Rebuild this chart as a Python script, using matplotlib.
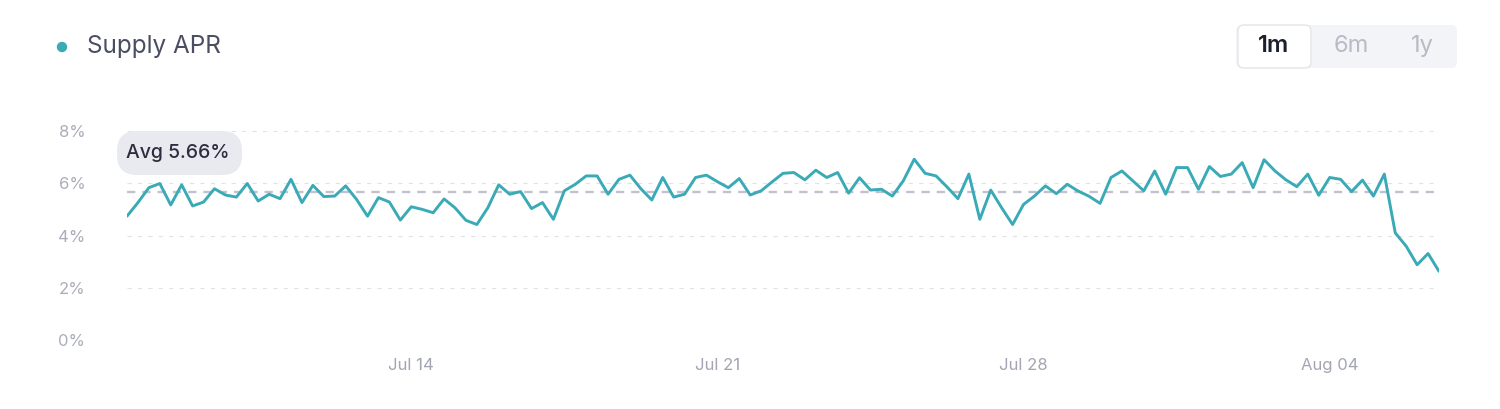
import matplotlib
matplotlib.use("Agg")
import matplotlib.pyplot as plt
import matplotlib.dates as mdates
from matplotlib.patches import FancyBboxPatch, Circle
from matplotlib.transforms import IdentityTransform
import pandas as pd

# supply APR (%), one value every 6 hours starting Jul 7 12:00
supply_apr = [
    4.74, 5.26, 5.83, 5.99, 5.17, 5.94, 5.13, 5.28, 5.79, 5.55,
    5.47, 5.99, 5.32, 5.58, 5.41, 6.15, 5.26, 5.92, 5.49, 5.51,
    5.90, 5.38, 4.74, 5.45, 5.28, 4.59, 5.10, 5.00, 4.87, 5.40,
    5.06, 4.58, 4.42, 5.06, 5.94, 5.58, 5.68, 5.03, 5.26, 4.62,
    5.71, 5.96, 6.28, 6.28, 5.58, 6.15, 6.31, 5.79, 5.36, 6.22,
    5.47, 5.58, 6.22, 6.31, 6.06, 5.83, 6.18, 5.55, 5.71, 6.05,
    6.38, 6.41, 6.13, 6.50, 6.22, 6.41, 5.62, 6.21, 5.74, 5.77,
    5.51, 6.09, 6.92, 6.38, 6.28, 5.86, 5.41, 6.35, 4.62, 5.74,
    5.06, 4.42, 5.19, 5.51, 5.90, 5.60, 5.96, 5.70, 5.50, 5.23,
    6.22, 6.47, 6.09, 5.71, 6.47, 5.58, 6.60, 6.60, 5.77, 6.64,
    6.26, 6.35, 6.79, 5.83, 6.90, 6.47, 6.13, 5.87, 6.35, 5.54,
    6.22, 6.15, 5.68, 6.12, 5.51, 6.35, 4.10, 3.59, 2.88, 3.31,
    2.63,
]
start_time = "2024-07-07 12:00"
avg_apr = 5.66
y_ticks = [0, 2, 4, 6, 8]
y_labels = ["0%", "2%", "4%", "6%", "8%"]
x_ticks = ["2024-07-14", "2024-07-21", "2024-07-28", "2024-08-04"]
periods = ["1m", "6m", "1y"]

teal = "#3aaab7"
W, H = 1500, 409

times = pd.date_range(start_time, periods=len(supply_apr), freq="6h")

plt.rcParams["font.family"] = ["Inter", "DejaVu Sans"]
plt.rcParams["lines.scale_dashes"] = False

fig = plt.figure(figsize=(W / 100, H / 100), dpi=100)
fig.patch.set_facecolor("white")
ax = fig.add_axes([127 / W, 1 - 340 / H, (1439 - 127) / W, (340 - 131) / H])

# grid
for y in y_ticks:
    ax.axhline(y, color="#e1e1e9", lw=0.8, ls=(0, (3, 4.5)), zorder=1)
ax.axhline(avg_apr, color="#c2c1cd", lw=1.7, ls=(0, (6, 5)), zorder=2)
ax.plot(times, supply_apr, color=teal, lw=2.1, solid_joinstyle="round",
        solid_capstyle="round", zorder=3)

ax.set_xlim(times[0], times[-1])
ax.set_ylim(0, 8)
ax.set_yticks(y_ticks)
ax.set_yticklabels(y_labels)
ax.set_xticks(pd.to_datetime(x_ticks))
ax.xaxis.set_major_formatter(mdates.DateFormatter("%b %d"))
ax.tick_params(axis="y", length=0, pad=30, labelsize=12, labelcolor="#abadb9")
ax.tick_params(axis="x", length=0, pad=13, labelsize=12, labelcolor="#a3a5b3")
for s in ax.spines.values():
    s.set_visible(False)

# avg pill
pill = FancyBboxPatch((117, H - 175), 125, 44, boxstyle="round,pad=0,rounding_size=20",
                      transform=IdentityTransform(), facecolor="#e9eaef", edgecolor="none", zorder=5)
fig.add_artist(pill)
fig.text(178 / W, 1 - 153 / H, f"Avg {avg_apr:.2f}%", ha="center", va="center",
         fontsize=14, color="#2b2e3d", fontweight="medium", zorder=6)

# legend
fig.add_artist(Circle((62, H - 47), 4.5, transform=IdentityTransform(), color=teal))
fig.text(87 / W, 1 - 47 / H, "Supply APR", ha="left", va="center", fontsize=17.5,
         color="#4b4e63")

# period buttons
box = FancyBboxPatch((1236, H - 68), 221, 43, boxstyle="round,pad=0,rounding_size=6",
                     transform=IdentityTransform(), facecolor="#f3f4f7", edgecolor="none")
fig.add_artist(box)
sel = FancyBboxPatch((1238, H - 68), 73, 43, boxstyle="round,pad=0,rounding_size=6",
                     transform=IdentityTransform(), facecolor="white", edgecolor="#e4e5ea", lw=1)
fig.add_artist(sel)
btn_x = [1274, 1351, 1422]
for i, p in enumerate(periods):
    fig.text(btn_x[i] / W, 1 - 46 / H, p, ha="center", va="center", fontsize=17,
             color="#1c1f2e" if i == 0 else "#b8bac6",
             fontweight="semibold" if i == 0 else "normal")

fig.savefig("out.png", dpi=100)
